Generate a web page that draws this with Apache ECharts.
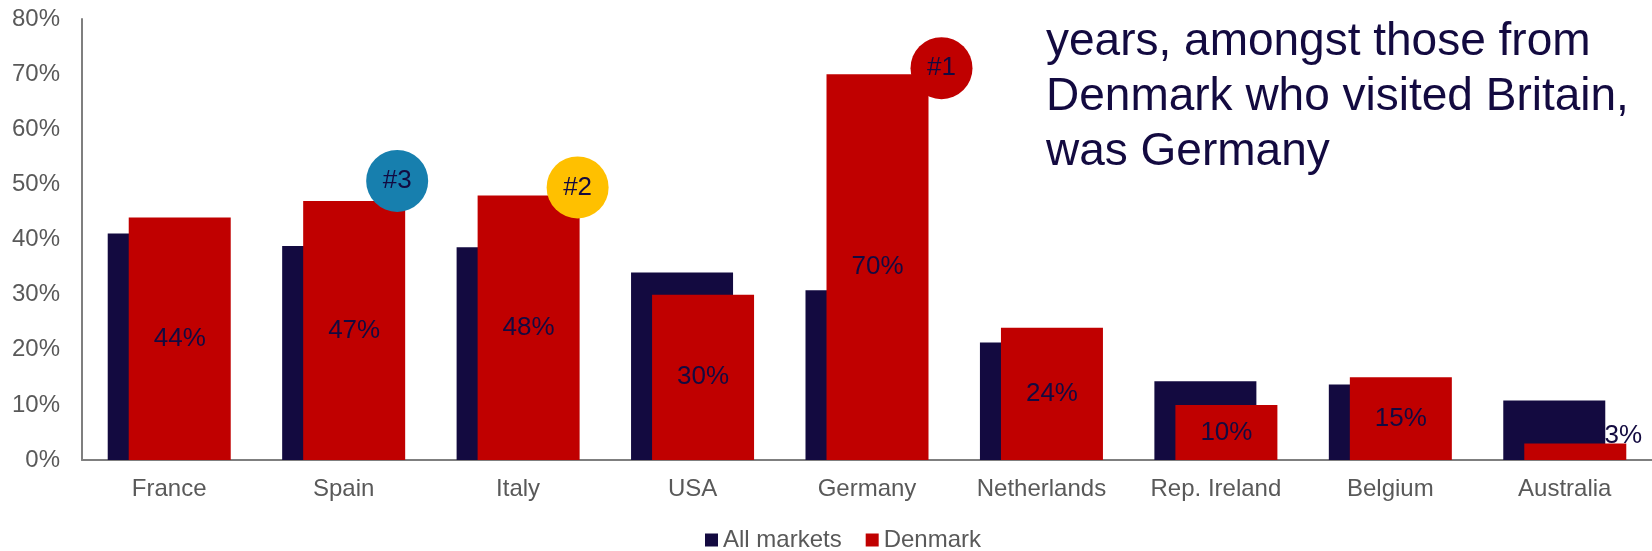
<!DOCTYPE html>
<html>
<head>
<meta charset="utf-8">
<title>Top destinations</title>
<script src="https://cdn.jsdelivr.net/npm/echarts@6/dist/echarts.min.js"></script>
<style>
  html, body { margin: 0; padding: 0; background: #ffffff; }
  #chart { width: 1652px; height: 551px; }
</style>
</head>
<body>
<div id="chart"></div>
<script>
// Destination markets and the share of visitors who went there
const categories = ['France', 'Spain', 'Italy', 'USA', 'Germany', 'Netherlands', 'Rep. Ireland', 'Belgium', 'Australia'];
const allMarkets = [41.1, 38.8, 38.6, 34.0, 30.8, 21.3, 14.3, 13.7, 10.8];
const denmark = [44, 47, 48, 30, 70, 24, 10, 15, 3];
const yTicks = [0, 10, 20, 30, 40, 50, 60, 70, 80];
// Top-three ranking badges: [category, rank label]
const ranks = [['Germany', '#1'], ['Italy', '#2'], ['Spain', '#3']];
const headline = ['years, amongst those from', 'Denmark who visited Britain,', 'was Germany'];

const NAVY = '#130a40';
const RED = '#c00000';
const GREY = '#595959';
const AXIS = '#7f7f7f';
const FONT = 'Liberation Sans, Arial, sans-serif';

// Badge colour and its offset from the top of the Denmark bar
const badgeStyle = {
  '#1': { color: RED, offset: [64, -6] },
  '#2': { color: '#ffc000', offset: [49, -8] },
  '#3': { color: '#177fae', offset: [43, -20] }
};

const denmarkData = denmark.map((v, i) => {
  if (categories[i] === 'Australia') {
    return { value: v, label: { offset: [48, -16] } };
  }
  return v;
});

const badgeData = ranks.map(([cat, rank]) => {
  const idx = categories.indexOf(cat);
  const st = badgeStyle[rank];
  return {
    name: rank,
    coord: [cat, denmark[idx]],
    symbolOffset: st.offset,
    itemStyle: { color: st.color }
  };
});

const chart = echarts.init(document.getElementById('chart'), null, { renderer: 'canvas' });

chart.setOption({
  animation: false,
  backgroundColor: '#ffffff',
  textStyle: { fontFamily: FONT },
  title: {
    text: headline.join('\n'),
    left: 1046,
    top: 15,
    padding: 0,
    textStyle: {
      fontFamily: FONT,
      fontSize: 46,
      fontWeight: 'normal',
      color: NAVY,
      lineHeight: 55
    }
  },
  legend: {
    left: 705,
    top: 528,
    itemWidth: 13,
    itemHeight: 13,
    itemGap: 24,
    icon: 'rect',
    padding: 0,
    textStyle: { fontFamily: FONT, fontSize: 24, color: GREY, padding: [0, 0, 0, 0] },
    data: ['All markets', 'Denmark']
  },
  grid: { left: 82, right: 0, top: 19, bottom: 91, containLabel: false },
  xAxis: {
    type: 'category',
    data: categories,
    axisLine: { show: true, lineStyle: { color: AXIS, width: 2 } },
    axisTick: { show: false },
    axisLabel: { fontFamily: FONT, fontSize: 24, color: GREY, margin: 17, interval: 0 }
  },
  yAxis: {
    type: 'value',
    min: yTicks[0],
    max: yTicks[yTicks.length - 1],
    interval: yTicks[1] - yTicks[0],
    axisLine: { show: true, lineStyle: { color: AXIS, width: 2 } },
    axisTick: { show: false },
    splitLine: { show: false },
    axisLabel: { fontFamily: FONT, fontSize: 24, color: GREY, margin: 22, formatter: '{value}%' }
  },
  series: [
    {
      name: 'All markets',
      type: 'bar',
      data: allMarkets,
      barWidth: 102,
      barGap: '-79.4%',
      itemStyle: { color: NAVY }
    },
    {
      name: 'Denmark',
      type: 'bar',
      data: denmarkData,
      barWidth: 102,
      barGap: '-79.4%',
      itemStyle: { color: RED },
      label: {
        show: true,
        position: 'inside',
        formatter: '{c}%',
        fontFamily: FONT,
        fontSize: 26,
        color: NAVY
      },
      markPoint: {
        symbol: 'circle',
        symbolSize: 62,
        label: {
          show: true,
          position: 'inside',
          formatter: '{b}',
          fontFamily: FONT,
          fontSize: 26,
          color: NAVY
        },
        data: badgeData
      }
    }
  ]
});
</script>
</body>
</html>
